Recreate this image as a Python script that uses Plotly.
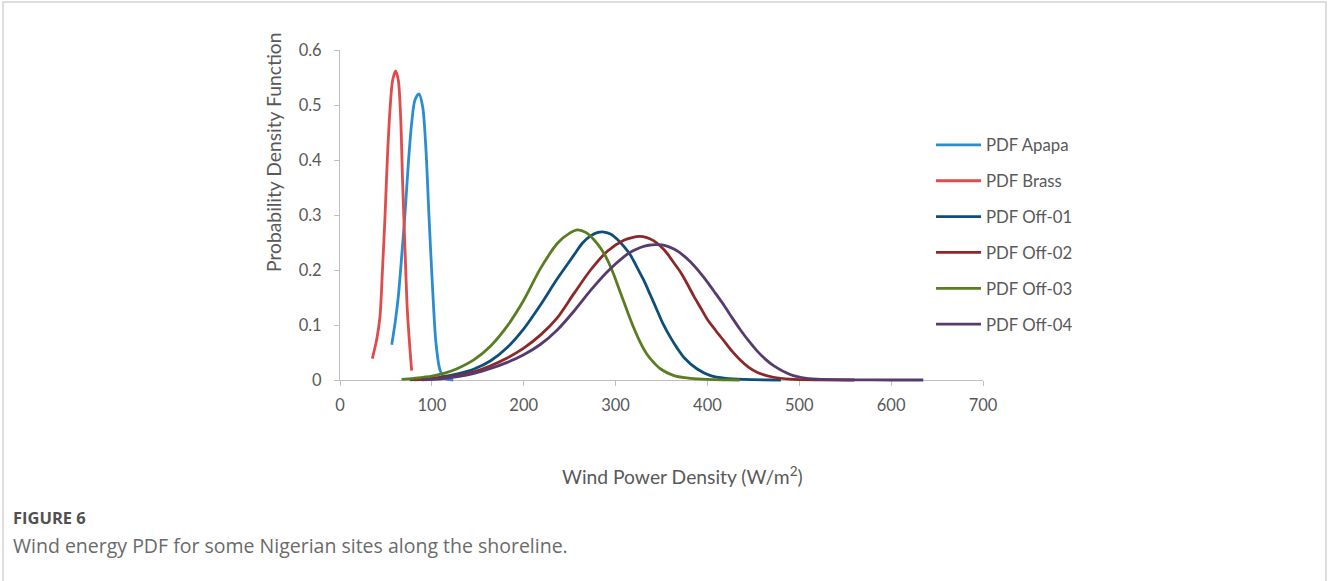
import plotly.graph_objects as go

# Wind power density (W/m^2) and PDF values for each site
apapa_x = [56.3, 59.9, 63.5, 67.1, 70.8, 74.4, 78.0, 81.6, 86.0, 90.0, 93.6, 96.9, 100.5, 104.5, 108.9, 114.3, 123.3]
apapa_y = [0.064, 0.103, 0.152, 0.224, 0.303, 0.394, 0.467, 0.509, 0.520, 0.497, 0.418, 0.297, 0.176, 0.067, 0.018, 0.003, 0.0]

brass_x = [35.2, 39.9, 43.5, 46.4, 49.0, 51.5, 54.4, 57.3, 60.6, 63.5, 66.0, 68.2, 70.8, 73.3, 76.2, 78.0]
brass_y = [0.039, 0.073, 0.115, 0.206, 0.297, 0.400, 0.491, 0.545, 0.562, 0.545, 0.479, 0.358, 0.236, 0.127, 0.055, 0.017]

off01_x = [76, 92, 110, 128, 146, 164, 182, 200, 218, 236.5, 254.6, 264, 272.8, 280, 287.5, 295, 301.8, 309, 316.3,
           323, 330.8, 338, 345.4, 352, 359.9, 367, 374.4, 388.9, 403.4, 420, 440, 480]
off01_y = [0.0005, 0.002, 0.005, 0.011, 0.020, 0.035, 0.059, 0.093, 0.136, 0.184, 0.227, 0.249, 0.262, 0.268, 0.269,
           0.265, 0.256, 0.243, 0.227, 0.206, 0.181, 0.154, 0.126, 0.101, 0.077, 0.058, 0.041, 0.020, 0.008, 0.003, 0.001, 0.0]

off02_x = [80, 100, 128, 146, 164, 182, 200, 218.4, 236.5, 254.6, 272.8, 291, 309, 318, 326, 334, 341.7, 349, 356.2,
           363, 370.8, 378, 385.3, 393, 400, 409, 418, 427, 436, 445, 454, 472, 490, 520, 560]
off02_y = [0.0005, 0.002, 0.008, 0.015, 0.026, 0.040, 0.058, 0.082, 0.113, 0.157, 0.200, 0.234, 0.254, 0.259, 0.261,
           0.259, 0.253, 0.243, 0.230, 0.214, 0.196, 0.175, 0.152, 0.130, 0.110, 0.090, 0.071, 0.052, 0.036, 0.023,
           0.014, 0.005, 0.0015, 0.0002, 0.0]

off03_x = [67, 80, 100, 115, 128, 146, 164, 182, 200, 218, 237, 250, 258.5, 268, 276, 284, 291, 298, 305, 313, 320,
           327, 334.5, 342, 349, 363.5, 381.6, 400, 420, 435]
off03_y = [0.001, 0.003, 0.007, 0.013, 0.021, 0.037, 0.062, 0.098, 0.145, 0.202, 0.249, 0.267, 0.273, 0.268, 0.256,
           0.239, 0.219, 0.192, 0.160, 0.124, 0.094, 0.068, 0.046, 0.031, 0.020, 0.008, 0.003, 0.001, 0.0003, 0.0]

off04_x = [89, 110, 128, 146, 164, 182, 200, 218.4, 236.5, 254.6, 272.8, 291, 309, 318, 327, 336, 346, 355, 363.5,
           372, 382, 391, 400, 409, 418, 427, 436, 445, 454, 463, 472, 490, 508, 526, 560, 600, 635]
off04_y = [0.0005, 0.002, 0.006, 0.012, 0.021, 0.032, 0.046, 0.065, 0.091, 0.125, 0.163, 0.197, 0.224, 0.234, 0.241,
           0.245, 0.246, 0.244, 0.238, 0.229, 0.214, 0.197, 0.178, 0.157, 0.136, 0.113, 0.091, 0.071, 0.053, 0.038,
           0.026, 0.010, 0.003, 0.001, 0.0002, 0.0, 0.0]

series = [
    ("PDF Apapa", apapa_x, apapa_y, "#2b8dd0"),
    ("PDF Brass", brass_x, brass_y, "#e04b4b"),
    ("PDF Off-01", off01_x, off01_y, "#0e4e79"),
    ("PDF Off-02", off02_x, off02_y, "#8c2828"),
    ("PDF Off-03", off03_x, off03_y, "#5b7d22"),
    ("PDF Off-04", off04_x, off04_y, "#583b6e"),
]

x_ticks = [0, 100, 200, 300, 400, 500, 600, 700]
y_ticks = [0, 0.1, 0.2, 0.3, 0.4, 0.5, 0.6]
y_ticktext = ["0", "0.1", "0.2", "0.3", "0.4", "0.5", "0.6"]

W, H = 1328, 581
ML, MR, MT, MB = 340, 345, 50, 191
PW, PH = W - ML - MR, H - MT - MB
EXTRA = 10  # px below the zero line so lines on the baseline are not clipped


def px(x):
    return (x - ML) / PW


def py(y):
    return (H - MB - y) / PH


TXT = "#595959"
AX = "#bfbfbf"
FONT = "Lato, Calibri, sans-serif"

fig = go.Figure()
# empty trace so the visible axes get drawn
fig.add_trace(go.Scatter(x=[None], y=[None], xaxis="x", yaxis="y", showlegend=False, hoverinfo="skip"))
for i, (name, xs, ys, col) in enumerate(series):
    fig.add_trace(go.Scatter(
        x=xs, y=ys, name=name, mode="lines",
        line=dict(color=col, width=2.8, shape="spline", smoothing=0.8),
        xaxis="x2", yaxis="y2", legendgroup=f"g{i}",
    ))

y_lo = -y_ticks[-1] * EXTRA / (PH - EXTRA)

fig.update_layout(
    width=W, height=H,
    margin=dict(l=ML, r=MR, t=MT, b=MB),
    paper_bgcolor="white", plot_bgcolor="rgba(0,0,0,0)",
    font=dict(family=FONT, color=TXT, size=16),
    showlegend=True,
    legend=dict(
        x=px(931), y=py(127.5), xanchor="left", yanchor="top",
        font=dict(family=FONT, size=16.8, color=TXT),
        traceorder="grouped", tracegroupgap=11, itemwidth=45,
        bgcolor="rgba(0,0,0,0)",
    ),
    xaxis=dict(
        range=[x_ticks[0], x_ticks[-1]], tickvals=x_ticks, domain=[0, 1], anchor="y",
        showline=True, linecolor=AX, linewidth=1, ticks="outside", ticklen=5, tickcolor=AX,
        showgrid=False, zeroline=False, ticklabelstandoff=5,
        tickfont=dict(family=FONT, size=16.5, color=TXT),
    ),
    yaxis=dict(
        range=[y_ticks[0], y_ticks[-1]], tickvals=y_ticks, ticktext=y_ticktext,
        domain=[EXTRA / PH, 1], anchor="x",
        showline=True, linecolor=AX, linewidth=1, ticks="outside", ticklen=5, tickcolor=AX,
        showgrid=False, zeroline=False, ticklabelstandoff=9,
        tickfont=dict(family=FONT, size=16.5, color=TXT),
    ),
    xaxis2=dict(range=[x_ticks[0], x_ticks[-1]], domain=[0, 1], anchor="y2", visible=False),
    yaxis2=dict(range=[y_lo, y_ticks[-1]], domain=[0, 1], anchor="x2", visible=False),
)

fig.add_annotation(
    text="Probability Density Function", xref="paper", yref="paper",
    x=px(273), y=py(153), textangle=-90, showarrow=False,
    xanchor="center", yanchor="middle", font=dict(family=FONT, size=19.3, color=TXT),
)
fig.add_annotation(
    text="Wind Power Density (W/m<sup>2</sup>)", xref="paper", yref="paper",
    x=px(682), y=py(475), showarrow=False,
    xanchor="center", yanchor="middle", font=dict(family=FONT, size=19.3, color=TXT),
)
fig.add_annotation(
    text="<b>FIGURE 6</b>", xref="paper", yref="paper",
    x=px(11), y=py(517), showarrow=False,
    xanchor="left", yanchor="middle", font=dict(family="Open Sans, sans-serif", size=16.5, color="#505050"),
)
fig.add_annotation(
    text="Wind energy PDF for some Nigerian sites along the shoreline.", xref="paper", yref="paper",
    x=px(11), y=py(545), showarrow=False,
    xanchor="left", yanchor="middle", font=dict(family="Open Sans, sans-serif", size=19.5, color="#6a6a6a"),
)

# light frame around the figure panel
fig.add_shape(
    type="rect", xref="paper", yref="paper",
    x0=px(3), x1=px(1326), y0=py(620), y1=py(2),
    line=dict(color="#d4d4d4", width=1.5), fillcolor="rgba(0,0,0,0)", layer="below",
)

fig.write_html("out.html")
